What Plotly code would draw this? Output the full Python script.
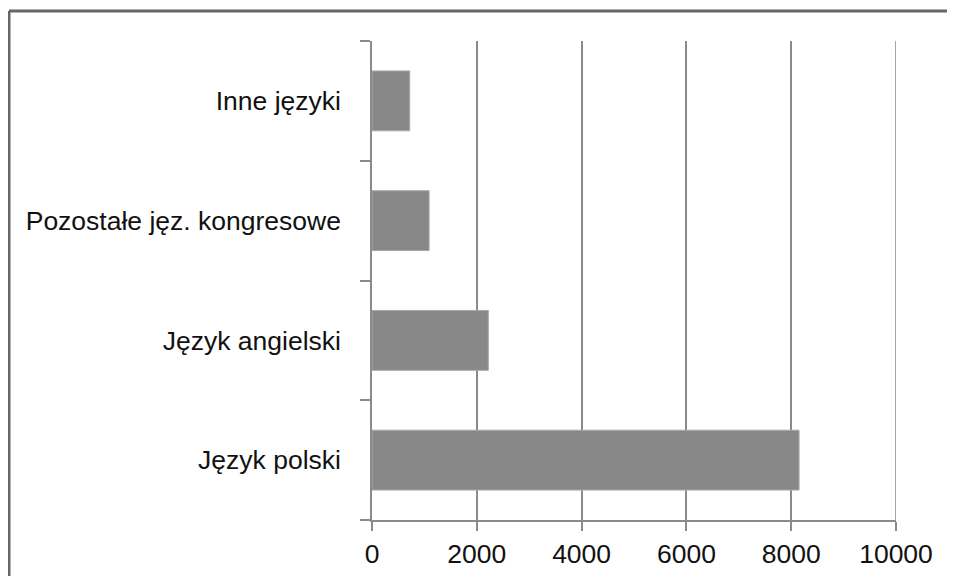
import plotly.graph_objects as go

categories = ["Język polski", "Język angielski", "Pozostałe jęz. kongresowe", "Inne języki"]
values = [8150, 2220, 1090, 720]
x_ticks = [0, 2000, 4000, 6000, 8000, 10000]

# page body adds an 8px offset; target screen coordinates minus 8
OFF = 8
W, H = 955 - OFF, 576 - OFF
L = 372 - OFF
T = 41 - OFF
R = W - (896 - OFF)
B = H - (520 - OFF)
pw, ph = W - L - R, H - T - B

def px_to_paper_x(px):
    return (px - OFF - L) / pw

def px_to_paper_y(py):
    return (H - B - (py - OFF)) / ph

fig = go.Figure(go.Bar(
    x=values, y=categories, orientation="h",
    marker=dict(color="#888888", line=dict(color="#a8a8a8", width=1)),
    width=0.5,
))

fig.update_layout(
    width=W, height=H,
    margin=dict(l=L, r=R, t=T, b=B, autoexpand=False),
    paper_bgcolor="white", plot_bgcolor="white",
    font=dict(family="Liberation Sans, Arial, sans-serif", size=26.5, color="#111111"),
    showlegend=False,
    xaxis=dict(
        range=[0, 10000], tickvals=x_ticks, ticktext=[str(v) for v in x_ticks],
        showgrid=True, gridcolor="#8a8a8a", gridwidth=1.5,
        showline=True, linecolor="#8a8a8a", linewidth=1.5,
        ticks="outside", ticklen=9, tickcolor="#8a8a8a", tickwidth=1.5,
        zeroline=False, fixedrange=True, automargin=False,
    ),
    yaxis=dict(
        type="category", categoryorder="array", categoryarray=categories,
        tickson="boundaries", ticks="outside", ticklen=10, tickcolor="#8a8a8a", tickwidth=1.5,
        showline=True, linecolor="#8a8a8a", linewidth=1.5,
        showgrid=False, zeroline=False, fixedrange=True, automargin=False,
        ticklabelstandoff=24,
    ),
    shapes=[
        dict(type="line", xref="x", yref="paper",
             x0=x_ticks[-1], x1=x_ticks[-1], y0=0, y1=1,
             line=dict(color="#8a8a8a", width=1.5)),
        dict(type="line", xref="paper", yref="paper",
             x0=px_to_paper_x(9), x1=px_to_paper_x(980),
             y0=px_to_paper_y(11), y1=px_to_paper_y(11),
             line=dict(color="#666666", width=3)),
        dict(type="line", xref="paper", yref="paper",
             x0=px_to_paper_x(9), x1=px_to_paper_x(9),
             y0=px_to_paper_y(11), y1=px_to_paper_y(620),
             line=dict(color="#666666", width=3)),
    ],
)

fig.write_html("out.html")
